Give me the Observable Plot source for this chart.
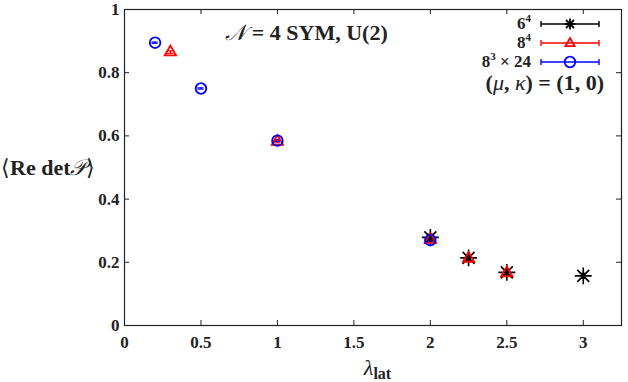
<!DOCTYPE html>
<html>
<head>
<meta charset="utf-8">
<script src="https://cdn.jsdelivr.net/npm/d3@7"></script>
<script src="https://cdn.jsdelivr.net/npm/@observablehq/plot@0.6"></script>
<style>
  html, body { margin: 0; padding: 0; background: #fff; }
  #chart { width: 628px; height: 382px; }
</style>
</head>
<body>
<div id="chart"></div>
<script>
// ---- data ----
const seriesNames = ["6^4", "8^4", "8^3x24"];
const lambda64 = [2, 2.25, 2.5, 3];
const value64  = [0.279, 0.214, 0.168, 0.157];
const err64    = [0.010, 0.008, 0.008, 0.008];
const lambda84 = [0.3, 1, 2, 2.25, 2.5];
const value84  = [0.865, 0.582, 0.272, 0.212, 0.166];
const err84    = [0.004, 0.004, 0.005, 0.005, 0.005];
const lambda8324 = [0.2, 0.5, 1, 2];
const value8324  = [0.895, 0.750, 0.585, 0.270];
const err8324    = [0.002, 0.002, 0.003, 0.003];
const xTicks = [0, 0.5, 1, 1.5, 2, 2.5, 3];
const xTickLabels = ["0", "0.5", "1", "1.5", "2", "2.5", "3"];
const yTicks = [0, 0.2, 0.4, 0.6, 0.8, 1];
const yTickLabels = ["0", "0.2", "0.4", "0.6", "0.8", "1"];

const colors = {"6^4": "#000000", "8^4": "#ff0000", "8^3x24": "#0000ff"};

const rows = [];
lambda64.forEach((x, i) => rows.push({s: "6^4", x, y: value64[i], e: err64[i]}));
lambda84.forEach((x, i) => rows.push({s: "8^4", x, y: value84[i], e: err84[i]}));
lambda8324.forEach((x, i) => rows.push({s: "8^3x24", x, y: value8324[i], e: err8324[i]}));
const rows64 = rows.filter(d => d.s === "6^4");
const rows84 = rows.filter(d => d.s === "8^4");
const rows8324 = rows.filter(d => d.s === "8^3x24");

const xMax = 3.25;
const tickLenX = 0.033, tickLenY = 0.016, capW = 0.02;
const font = "Liberation Serif";

const plot = Plot.plot({
  width: 628,
  height: 382,
  marginLeft: 124,
  marginTop: 9,
  marginRight: 7,
  marginBottom: 57,
  x: {domain: [0, xMax]},
  y: {domain: [0, 1]},
  style: {fontFamily: font, fontWeight: "bold", fontSize: "15px", background: "white", color: "#222"},
  marks: [
    Plot.axisX(xTicks, {tickSize: 0, tickPadding: 10, tickFormat: (d, i) => xTickLabels[i], label: null, fontSize: 17, fontWeight: "bold", fontVariant: "normal"}),
    Plot.axisY(yTicks, {tickSize: 0, tickPadding: 5, tickFormat: (d, i) => yTickLabels[i], label: null, fontSize: 17, fontWeight: "bold", fontVariant: "normal"}),
    // inward ticks on all four sides
    Plot.ruleX(xTicks, {y1: 0, y2: tickLenY, stroke: "#222"}),
    Plot.ruleX(xTicks, {y1: 1, y2: 1 - tickLenY, stroke: "#222"}),
    Plot.ruleY(yTicks, {x1: 0, x2: tickLenX, stroke: "#222"}),
    Plot.ruleY(yTicks, {x1: xMax, x2: xMax - tickLenX, stroke: "#222"}),
    Plot.frame({stroke: "#222", strokeWidth: 1.2}),
    // error bars
    Plot.ruleX(rows, {x: "x", y1: d => d.y - d.e, y2: d => d.y + d.e, stroke: d => colors[d.s], strokeWidth: 1.2}),
    Plot.ruleY(rows, {y: d => d.y - d.e, x1: d => d.x - capW, x2: d => d.x + capW, stroke: d => colors[d.s], strokeWidth: 1.2}),
    Plot.ruleY(rows, {y: d => d.y + d.e, x1: d => d.x - capW, x2: d => d.x + capW, stroke: d => colors[d.s], strokeWidth: 1.2}),
    // markers
    Plot.dot(rows64, {x: "x", y: "y", symbol: "plus", stroke: colors["6^4"], r: 5.5, strokeWidth: 1.6}),
    Plot.dot(rows64, {x: "x", y: "y", symbol: "times", stroke: colors["6^4"], r: 5.5, strokeWidth: 1.6}),
    Plot.dot(rows84, {x: "x", y: "y", symbol: "triangle", stroke: colors["8^4"], fill: "none", r: 4.2, strokeWidth: 1.8}),
    Plot.dot(rows8324, {x: "x", y: "y", symbol: "circle", stroke: colors["8^3x24"], fill: "none", r: 5.3, strokeWidth: 1.8})
  ]
});

document.getElementById("chart").appendChild(plot);

// ---- annotations / legend ----
const svg = d3.select(plot);
svg.selectAll("text").style("font-family", "'Liberation Serif', serif").style("font-weight", "bold");
const sx = plot.scale("x"), sy = plot.scale("y");
const pRight = sx.apply(xMax), pTop = sy.apply(1), pBottom = sy.apply(0), pLeft = sx.apply(0);

function addText(x, y, anchor, size) {
  return svg.append("text").attr("x", x).attr("y", y)
    .attr("text-anchor", anchor)
    .style("font-family", "'Liberation Serif', serif")
    .style("font-size", size + "px").style("font-weight", "bold").attr("fill", "#222");
}

// title
const title = addText((pLeft + pRight) / 2 - 66, pTop + 31, "middle", 22);
title.append("tspan").text("𝒩").style("font-style", "italic").style("font-weight", "normal");
title.append("tspan").text(" = 4 SYM, U(2)");

// legend
const legX1 = pRight - 80, legX2 = pRight - 22, legLabelX = legX1 - 10;
const legRows = [
  {s: "6^4", base: "6", sup: "4", post: ""},
  {s: "8^4", base: "8", sup: "4", post: ""},
  {s: "8^3x24", base: "8", sup: "3", post: " × 24"}
];
legRows.forEach((r, i) => {
  const yy = pTop + 15 + i * 19;
  const t = addText(legLabelX, yy + 5, "end", 17);
  t.append("tspan").text(r.base);
  t.append("tspan").text(r.sup).attr("dy", -7).style("font-size", "11px");
  if (r.post) t.append("tspan").text(r.post).attr("dy", 7);
  const c = colors[r.s];
  const cx = (legX1 + legX2) / 2;
  svg.append("line").attr("x1", legX1).attr("x2", legX2).attr("y1", yy).attr("y2", yy).attr("stroke", c).attr("stroke-width", 1.4);
  [legX1, legX2].forEach(xx => svg.append("line").attr("x1", xx).attr("x2", xx).attr("y1", yy - 3).attr("y2", yy + 3).attr("stroke", c).attr("stroke-width", 1.4));
  const g = svg.append("g").attr("transform", `translate(${cx},${yy})`).attr("fill", "none").attr("stroke", c).attr("stroke-width", 1.8);
  if (r.s === "6^4") {
    g.append("path").attr("d", "M-5.5,0H5.5M0,-5.5V5.5M-4,-4L4,4M-4,4L4,-4");
  } else if (r.s === "8^4") {
    g.append("path").attr("d", "M0,-5L4.6,3.2H-4.6Z");
  } else {
    g.append("circle").attr("r", 5.3);
  }
});

const mk = addText(pRight - 17, pTop + 81, "end", 22);
mk.append("tspan").text("(");
mk.append("tspan").text("μ").style("font-style", "italic").style("font-weight", "normal");
mk.append("tspan").text(", ");
mk.append("tspan").text("κ").style("font-style", "italic").style("font-weight", "normal");
mk.append("tspan").text(") = (1, 0)");

// y label
const yl = addText(1, 175, "start", 22);
yl.append("tspan").text("⟨").style("font-weight", "normal");
yl.append("tspan").text("Re det");
yl.append("tspan").text("𝒫").style("font-style", "italic").style("font-weight", "normal");
yl.append("tspan").text("⟩").style("font-weight", "normal");

// x label
const xl = addText((pLeft + pRight) / 2 + 5, pBottom + 50, "middle", 16);
xl.append("tspan").text("λ").style("font-style", "italic").style("font-weight", "normal").style("font-size", "22px");
xl.append("tspan").text("lat").attr("dy", 4).style("font-size", "16px");
</script>
</body>
</html>
